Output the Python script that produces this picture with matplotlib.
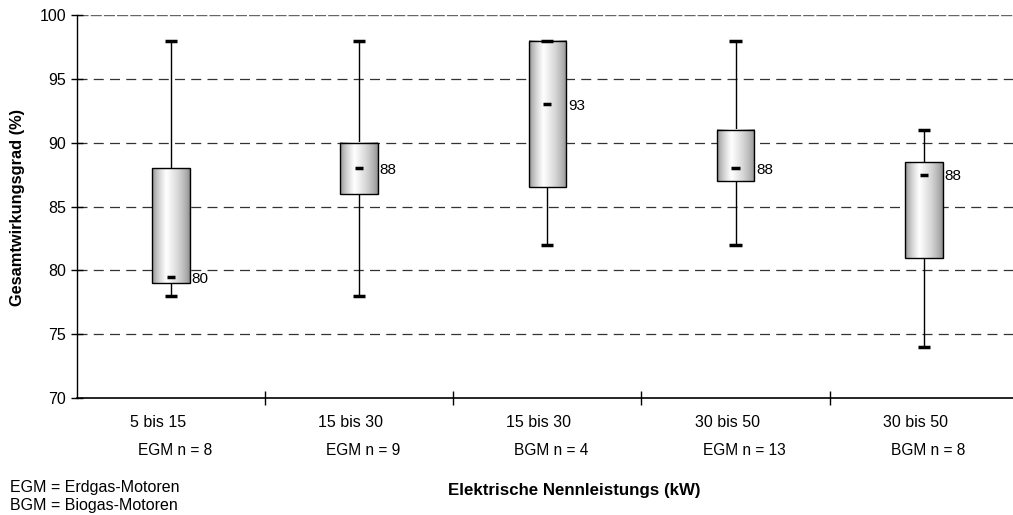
import numpy as np
import matplotlib
matplotlib.use("Agg")
import matplotlib.pyplot as plt
from matplotlib.patches import Rectangle

plt.rcParams['font.family'] = ['Liberation Sans', 'DejaVu Sans']

# Daten
kategorien = ["5 bis 15", "15 bis 30", "15 bis 30", "30 bis 50", "30 bis 50"]
gruppen = ["EGM n = 8", "EGM n = 9", "BGM n = 4", "EGM n = 13", "BGM n = 8"]
minimum = [78, 78, 82, 82, 74]
q1 = [79, 86, 86.5, 87, 81]
median = [79.5, 88, 93, 88, 87.5]
q3 = [88, 90, 98, 91, 88.5]
maximum = [98, 98, 98, 98, 91]
median_label = ["80", "88", "93", "88", "88"]

W, H = 1013, 515
fig = plt.figure(figsize=(W / 100, H / 100), dpi=100)
ax = fig.add_axes([76.7 / W, (H - 398) / H, 941.3 / W, 383 / H])
ax.set_xlim(0, 5)
ax.set_ylim(70, 100)

# Gitterlinien
for yv in [75, 80, 85, 90, 95]:
    ax.axhline(yv, color='#333333', lw=0.9, ls=(0, (8, 5)), zorder=0.5)
ax.axhline(100, color='#666666', lw=1.0, ls=(0, (8, 1.5)), zorder=0.5)

# Farbverlauf fuer die Boxen
t = np.linspace(0, 1, 200)
peak = 0.38
v = np.where(t < peak, 0.5 + 0.5 * (t / peak) ** 0.6,
             0.52 + 0.48 * ((1 - t) / (1 - peak)) ** 0.6)
grad = np.dstack([v, v, v])[0][None, :, :]

bw = 0.2
cw = 0.065
for i in range(len(kategorien)):
    x = i + 0.5
    ax.plot([x, x], [minimum[i], maximum[i]], color='black', lw=1, zorder=1)
    for yy in (minimum[i], maximum[i]):
        ax.plot([x - cw / 2, x + cw / 2], [yy, yy], color='black', lw=2.5,
                solid_capstyle='butt', zorder=4)
    ax.imshow(grad, extent=(x - bw / 2, x + bw / 2, q1[i], q3[i]),
              aspect='auto', interpolation='bilinear', zorder=2)
    ax.add_patch(Rectangle((x - bw / 2, q1[i]), bw, q3[i] - q1[i],
                           fill=False, ec='black', lw=1, zorder=3))
    ax.plot([x - 0.022, x + 0.022], [median[i], median[i]], color='black',
            lw=2.5, solid_capstyle='butt', zorder=4)
    ax.text(x + bw / 2 + 0.01, median[i] - 0.15, median_label[i],
            fontsize=11, va='center', ha='left', zorder=5)
    ax.text(x - 0.218, 68.1, kategorien[i], fontsize=11.5, ha='left',
            va='center', clip_on=False)
    ax.text(x - 0.175, 65.85, gruppen[i], fontsize=11.2, ha='left',
            va='center', clip_on=False)

ax.set_xlim(0, 5)
ax.set_ylim(70, 100)
ax.set_yticks([70, 75, 80, 85, 90, 95, 100])
ax.set_yticklabels(["70", "75", "80", "85", "90", "95", "100"], fontsize=11.5)
ax.set_xticks([1, 2, 3, 4])
ax.set_xticklabels([])
ax.tick_params(axis='y', direction='inout', length=9, width=1, pad=3)
ax.tick_params(axis='x', direction='inout', length=10, width=1)
ax.spines['top'].set_visible(False)
ax.spines['right'].set_visible(False)
ax.spines['left'].set_linewidth(1)
ax.spines['bottom'].set_linewidth(1.2)

fig.text(18 / W, 1 - 207 / H, "Gesamtwirkungsgrad (%)", rotation=90,
         fontsize=11.8, fontweight='bold', ha='center', va='center')
fig.text(574 / W, 1 - 494.5 / H, "Elektrische Nennleistungs (kW)",
         fontsize=12.2, fontweight='bold', ha='center', va='baseline')
fig.text(10 / W, 1 - 492 / H, "EGM = Erdgas-Motoren", fontsize=11.5,
         ha='left', va='baseline')
fig.text(10 / W, 1 - 510 / H, "BGM = Biogas-Motoren", fontsize=11.5,
         ha='left', va='baseline')

fig.savefig("out.png", dpi=100)
